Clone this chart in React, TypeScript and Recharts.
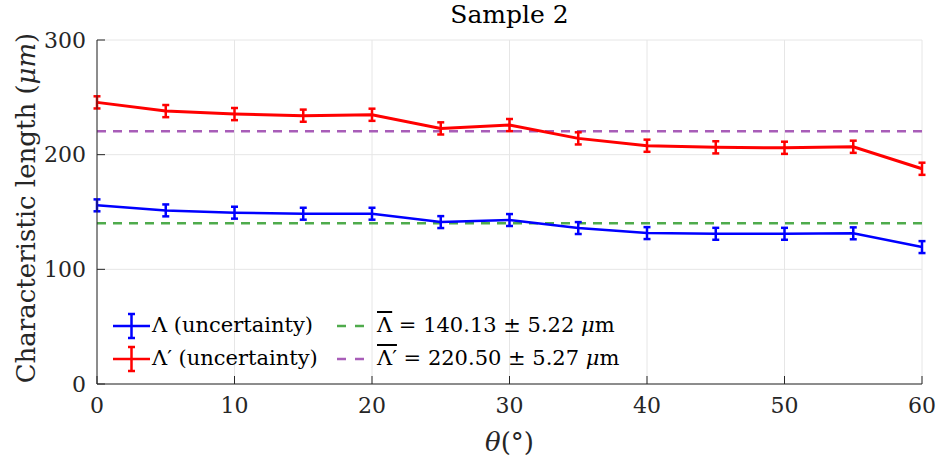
import {
  LineChart,
  Line,
  XAxis,
  YAxis,
  CartesianGrid,
  ErrorBar,
  Legend,
} from "recharts";

const THETA = [0, 5, 10, 15, 20, 25, 30, 35, 40, 45, 50, 55, 60];
const LAMBDA = [155.8, 151.4, 149.4, 148.5, 148.5, 141.2, 143, 136, 131.6, 131, 131, 131.4, 119.4];
const LAMBDA_ERR = [5.2, 5.2, 5.2, 5.2, 5.2, 5.2, 5.2, 5.2, 5.2, 5.2, 5.2, 5.2, 5.2];
const LAMBDA_P = [245.6, 238, 235.4, 234, 234.8, 222.9, 225.8, 214.2, 207.8, 206.4, 206, 206.9, 187.7];
const LAMBDA_P_ERR = [5.3, 5.3, 5.3, 5.3, 5.3, 5.3, 5.3, 5.3, 5.3, 5.3, 5.3, 5.3, 5.3];

const LAMBDA_MEAN = 140.13;
const LAMBDA_MEAN_UNC = 5.22;
const LAMBDA_P_MEAN = 220.5;
const LAMBDA_P_MEAN_UNC = 5.27;

const X_TICKS = [0, 10, 20, 30, 40, 50, 60];
const Y_TICKS = [0, 100, 200, 300];

const data = THETA.map((t, i) => ({
  theta: t,
  lam: LAMBDA[i],
  lamErr: LAMBDA_ERR[i],
  lamP: LAMBDA_P[i],
  lamPErr: LAMBDA_P_ERR[i],
  lamMean: LAMBDA_MEAN,
  lamPMean: LAMBDA_P_MEAN,
}));

const FONT = '"DejaVu Serif", serif';
const AXIS = "#262626";
const BLUE = "#0000ff";
const RED = "#ff0000";
const GREEN = "#4fab4c";
const PURPLE = "#a85db8";

const tickStyle = { fill: AXIS, fontSize: 22, fontFamily: FONT };

function ErrIcon({ color }: { color: string }) {
  return (
    <svg width={40} height={28}>
      <line x1={1} y1={14} x2={38} y2={14} stroke={color} strokeWidth={2.5} />
      <line x1={19.5} y1={2} x2={19.5} y2={26} stroke={color} strokeWidth={2.5} />
      <line x1={16} y1={2} x2={23} y2={2} stroke={color} strokeWidth={2.5} />
      <line x1={16} y1={26} x2={23} y2={26} stroke={color} strokeWidth={2.5} />
    </svg>
  );
}

function DashIcon({ color }: { color: string }) {
  return (
    <svg width={28} height={10}>
      <line x1={0} y1={5} x2={28} y2={5} stroke={color} strokeWidth={2.5} strokeDasharray="9 9" />
    </svg>
  );
}

function LegendBox() {
  const over = { textDecoration: "overline" };
  return (
    <div
      style={{
        display: "grid",
        gridTemplateColumns: "40px 185px 40px auto",
        alignItems: "center",
        rowGap: 4,
        fontFamily: FONT,
        fontSize: 21,
        color: "#000",
        lineHeight: "29px",
        whiteSpace: "nowrap",
      }}
    >
      <ErrIcon color={BLUE} />
      <span>Λ (uncertainty)</span>
      <DashIcon color={GREEN} />
      <span>
        <span style={over}>Λ</span> = {LAMBDA_MEAN.toFixed(2)} ± {LAMBDA_MEAN_UNC.toFixed(2)}{" "}
        <i>μ</i>m
      </span>
      <ErrIcon color={RED} />
      <span>Λ′ (uncertainty)</span>
      <DashIcon color={PURPLE} />
      <span>
        <span style={over}>Λ′</span> = {LAMBDA_P_MEAN.toFixed(2)} ± {LAMBDA_P_MEAN_UNC.toFixed(2)}{" "}
        <i>μ</i>m
      </span>
    </div>
  );
}

function YLabel(props: any) {
  const vb = props.viewBox || {};
  const cx = 26;
  const cy = vb.y + vb.height / 2 - 4;
  return (
    <text
      x={cx}
      y={cy}
      transform={`rotate(-90 ${cx} ${cy})`}
      textAnchor="middle"
      dominantBaseline="central"
      fontFamily={FONT}
      fontSize={26}
      fill={AXIS}
    >
      Characteristic length (<tspan fontStyle="italic">μm</tspan>)
    </text>
  );
}

function XLabel(props: any) {
  const vb = props.viewBox || {};
  const cx = vb.x + vb.width / 2;
  return (
    <text x={cx} y={451} textAnchor="middle" fontFamily={FONT} fontSize={26} fill={AXIS}>
      <tspan fontStyle="italic">θ</tspan>(°)
    </text>
  );
}

export default function App() {
  return (
    <div style={{ position: "relative", width: 940, height: 465, background: "#fff" }}>
      <style>{`body{margin:0}`}</style>
      <div
        style={{
          position: "absolute",
          left: 97,
          top: 0,
          width: 825,
          textAlign: "center",
          fontFamily: FONT,
          fontSize: 25,
          lineHeight: "30px",
          color: "#000",
          zIndex: 1,
        }}
      >
        Sample 2
      </div>
      <LineChart
        width={940}
        height={465}
        data={data}
        margin={{ top: 40, right: 18, bottom: 0, left: 0 }}
      >
        <CartesianGrid stroke="#e6e6e6" strokeWidth={1} />
        <XAxis
          dataKey="theta"
          type="number"
          domain={[0, 60]}
          ticks={X_TICKS}
          height={81}
          tick={tickStyle}
          tickSize={-8}
          tickMargin={21}
          stroke={AXIS}
          label={<XLabel />}
        />
        <XAxis
          xAxisId="top"
          orientation="top"
          dataKey="theta"
          type="number"
          domain={[0, 60]}
          ticks={X_TICKS}
          height={0}
          tick={false}
          tickSize={-8}
          stroke={AXIS}
        />
        <YAxis
          type="number"
          domain={[0, 300]}
          ticks={Y_TICKS}
          width={97}
          tick={tickStyle}
          tickSize={-8}
          tickMargin={19}
          stroke={AXIS}
          label={<YLabel />}
        />
        <YAxis
          yAxisId="right"
          orientation="right"
          type="number"
          domain={[0, 300]}
          ticks={Y_TICKS}
          width={0}
          tick={false}
          tickSize={-8}
          stroke={AXIS}
        />
        <Line
          dataKey="lamMean"
          stroke={GREEN}
          strokeWidth={2.5}
          strokeDasharray="9 7"
          dot={false}
          isAnimationActive={false}
        />
        <Line
          dataKey="lamPMean"
          stroke={PURPLE}
          strokeWidth={2.5}
          strokeDasharray="9 7"
          dot={false}
          isAnimationActive={false}
        />
        <Line
          dataKey="lam"
          stroke={BLUE}
          strokeWidth={2.5}
          dot={false}
          isAnimationActive={false}
        >
          <ErrorBar dataKey="lamErr" width={3.5} strokeWidth={2.5} stroke={BLUE} direction="y" isAnimationActive={false} />
        </Line>
        <Line
          dataKey="lamP"
          stroke={RED}
          strokeWidth={3}
          dot={false}
          isAnimationActive={false}
        >
          <ErrorBar dataKey="lamPErr" width={3.5} strokeWidth={2.5} stroke={RED} direction="y" isAnimationActive={false} />
        </Line>
        <Legend
          layout="vertical"
          align="center"
          verticalAlign="middle"
          content={<LegendBox />}
          wrapperStyle={{ left: 112, top: 311, width: "auto" }}
        />
      </LineChart>
    </div>
  );
}
